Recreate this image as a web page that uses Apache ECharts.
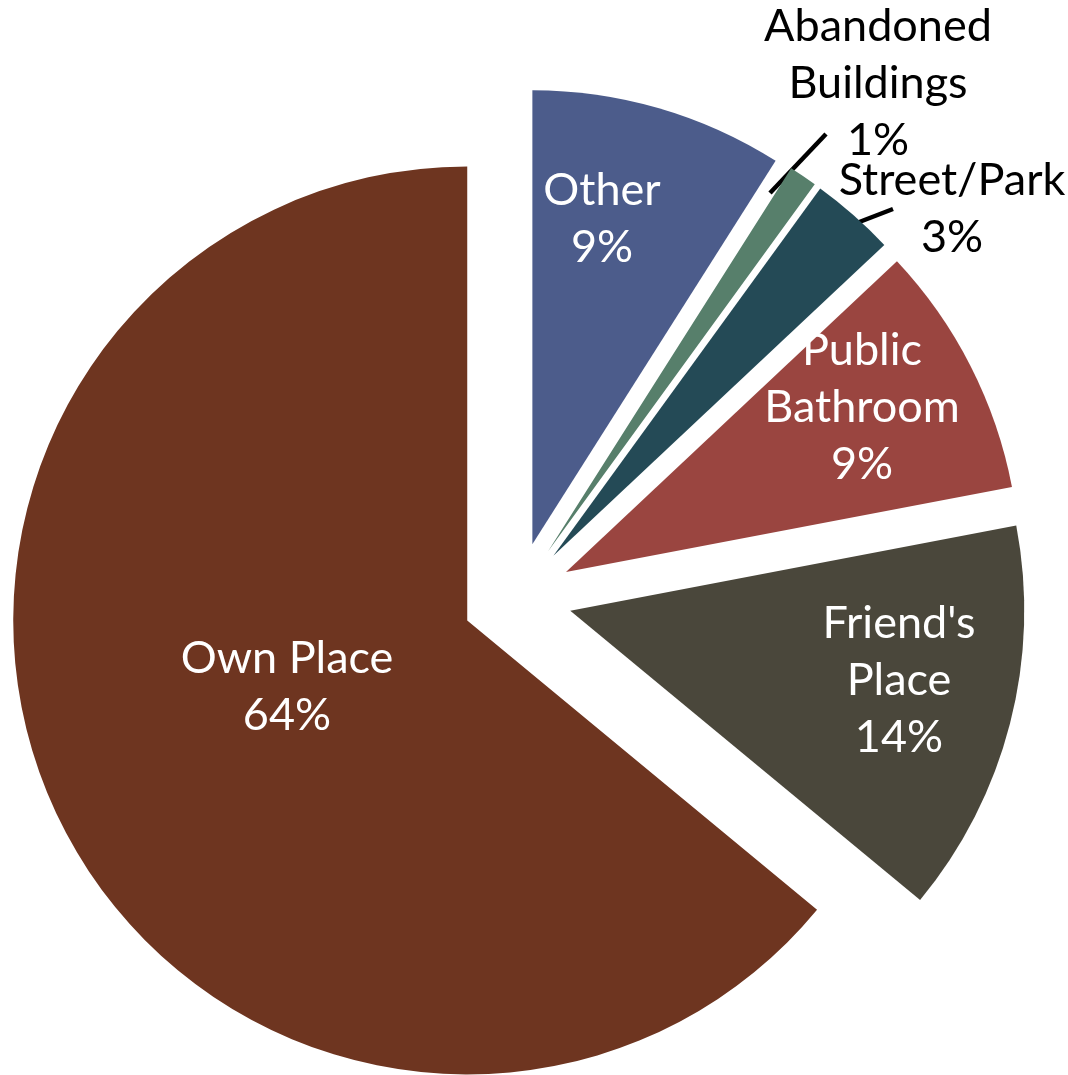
<!DOCTYPE html>
<html>
<head>
<meta charset="utf-8">
<script src="https://cdn.jsdelivr.net/npm/echarts@6/dist/echarts.min.js"></script>
<style>
  html, body { margin: 0; padding: 0; background: #ffffff; }
  #chart { width: 1068px; height: 1075px; }
</style>
</head>
<body>
<div id="chart"></div>
<script>
// Where people usually use: share of respondents by location (clockwise from 12 o'clock)
const categories = ['Other', 'Abandoned\nBuildings', 'Street/Park', 'Public\nBathroom', "Friend's\nPlace", 'Own Place'];
const shares = [9, 1, 3, 9, 14, 64];
const sliceColors = ['#4C5C8B', '#577F6B', '#244A56', '#9A4540', '#4A473B', '#6E3520'];
// Labels placed outside the pie with a short leader line
const outsideLabels = [1, 2];

// Label block centres and leader-line ends, in page pixels (layout only)
const labelCentres = [[602, 219], [878, 83], [952, 209], [862, 407], [899, 680], [287, 687]];
const leaderLines = { 1: [[770, 193], [826, 134]], 2: [[836, 231], [893, 209]] };

const EXPLODE = 55;

// Every slice is pulled out along its bisector; labels laid out before that shift,
// so work out each slice's shift to place labels in page space.
const total = shares.reduce((a, b) => a + b, 0);
let running = 0;
const sliceShift = shares.map(v => {
  const mid = (running + v / 2) / total * 2 * Math.PI;
  running += v;
  return [EXPLODE * Math.sin(mid), -EXPLODE * Math.cos(mid)];
});

const chart = echarts.init(document.getElementById('chart'), null, { renderer: 'canvas' });

const data = categories.map((name, i) => {
  const outside = outsideLabels.includes(i);
  return {
    name: name,
    value: shares[i],
    selected: true,
    itemStyle: { color: sliceColors[i] },
    label: {
      position: outside ? 'outside' : 'inside',
      color: outside ? '#000000' : '#ffffff'
    },
    labelLine: { show: outside, lineStyle: { color: '#000000', width: 4.5, cap: 'butt' } }
  };
});

chart.setOption({
  animation: false,
  backgroundColor: '#ffffff',
  series: [{
    type: 'pie',
    center: [517, 597],
    radius: 454,
    startAngle: 90,
    clockwise: true,
    selectedMode: 'multiple',
    selectedOffset: EXPLODE,
    avoidLabelOverlap: false,
    silent: true,
    itemStyle: { borderWidth: 0 },
    select: { itemStyle: { borderWidth: 0 } },
    label: {
      show: true,
      formatter: '{b}\n{d}%',
      fontFamily: 'Lato',
      fontSize: 45,
      lineHeight: 57,
      align: 'center'
    },
    labelLayout: function (params) {
      const i = params.dataIndex;
      const c = labelCentres[i];
      const s = sliceShift[i];
      const r = params.labelRect;
      let cx = r.x + r.width / 2;
      // switching the block to centred text moves its middle by half a width
      if (params.align === 'left') cx -= r.width / 2;
      else if (params.align === 'right') cx += r.width / 2;
      const out = {
        align: 'center',
        dx: c[0] - s[0] - cx,
        dy: c[1] - s[1] - (r.y + r.height / 2)
      };
      if (leaderLines[i]) {
        out.labelLinePoints = leaderLines[i].map(p => [p[0] - s[0], p[1] - s[1]]);
      }
      return out;
    },
    data: data
  }]
});
</script>
</body>
</html>
